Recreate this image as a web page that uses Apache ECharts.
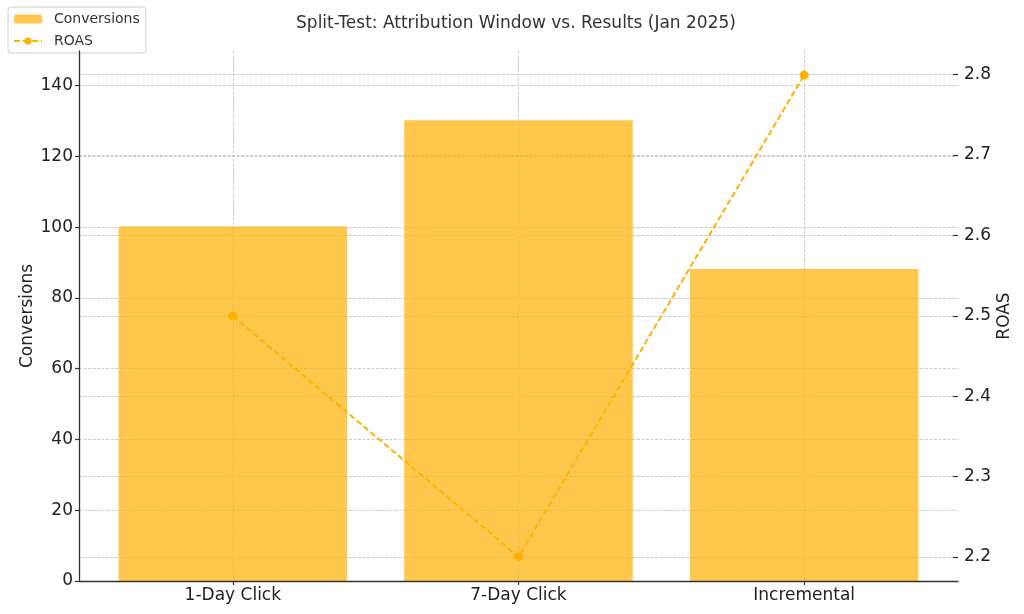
<!DOCTYPE html>
<html>
<head>
<meta charset="utf-8">
<script src="https://cdn.jsdelivr.net/npm/echarts@6/dist/echarts.min.js"></script>
<style>html,body{margin:0;padding:0;background:#fff}#c{width:1024px;height:614px}</style>
</head>
<body>
<div id="c"></div>
<script>
const categories = ['1-Day Click', '7-Day Click', 'Incremental'];
const conversions = [100, 130, 88];
const roas = [2.5, 2.2, 2.8];
const leftTicks = {min: 0, max: 140, interval: 20};
const rightTicks = {min: 2.2, max: 2.8, interval: 0.1};
const leftRange = [0, 149.5];
const rightRange = [2.17, 2.83];

const FONT = 'DejaVu Sans';
const gridLine = {show: true, lineStyle: {color: '#cccccc', width: 1, type: [3, 1.5]}};
const dark = '#333333';
const chart = echarts.init(document.getElementById('c'), null, {renderer: 'canvas'});
chart.setOption({
  animation: false,
  textStyle: {fontFamily: FONT},
  title: {
    text: 'Split-Test: Attribution Window vs. Results (Jan 2025)',
    left: 511, top: 10, textAlign: 'center',
    textStyle: {fontFamily: FONT, fontSize: 17, fontWeight: 'normal', color: '#333'}
  },
  legend: {
    orient: 'vertical', left: 8, top: 7,
    padding: [5, 6, 5, 5],
    itemGap: 8, itemWidth: 28, itemHeight: 9,
    borderColor: '#d0d0d0', borderWidth: 1, borderRadius: 3,
    backgroundColor: '#fff',
    textStyle: {fontFamily: FONT, fontSize: 14, color: '#333', padding: [0, 0, 0, 7]},
    data: ['Conversions', 'ROAS']
  },
  grid: [
    {left: 90, right: 77, top: 51, bottom: 33},
    {left: 79, right: 66, top: 51, bottom: 33},
    {left: 79, right: 66, top: 85.6, bottom: 33},
    {left: 79, right: 71, top: 74.5, bottom: 57}
  ],
  xAxis: [
    {type: 'category', gridIndex: 0, data: categories,
     axisLine: {show: false, onZero: false},
     axisTick: {show: true, alignWithLabel: true, length: 4, lineStyle: {color: dark, width: 1.2}},
     axisLabel: {fontSize: 17, color: '#222', margin: 6, fontFamily: FONT},
     splitLine: {show: true, alignWithLabel: true, lineStyle: {color: '#cccccc', width: 1, type: [3, 1.5]}}},
    {type: 'value', gridIndex: 1, min: 0, max: 1, z: 10,
     axisLine: {show: true, onZero: false, lineStyle: {color: dark, width: 1.3}},
     axisTick: {show: false}, axisLabel: {show: false}, splitLine: {show: false}},
    {type: 'value', gridIndex: 2, min: 0, max: 1, show: false, axisLine: {onZero: false}},
    {type: 'value', gridIndex: 3, min: 0, max: 1, show: false, axisLine: {onZero: false}}
  ],
  yAxis: [
    {type: 'value', gridIndex: 0, min: leftRange[0], max: leftRange[1], show: false, axisLine: {onZero: false}},
    {type: 'value', gridIndex: 0, min: rightRange[0], max: rightRange[1], show: false, position: 'right', axisLine: {onZero: false}},
    {type: 'value', gridIndex: 1, min: 0, max: 1, position: 'left', z: 10,
     name: 'Conversions', nameLocation: 'middle', nameGap: 43,
     nameTextStyle: {fontSize: 17, color: '#222', fontFamily: FONT},
     axisLine: {show: true, onZero: false, lineStyle: {color: dark, width: 1.3}},
     axisTick: {show: false}, axisLabel: {show: false}, splitLine: {show: false}},
    {type: 'value', gridIndex: 1, min: 0, max: 1, position: 'right',
     name: 'ROAS', nameLocation: 'middle', nameGap: 38,
     nameTextStyle: {fontSize: 17, color: '#222', fontFamily: FONT},
     axisLine: {show: false, onZero: false}, axisTick: {show: false}, axisLabel: {show: false}, splitLine: {show: false}},
    {type: 'value', gridIndex: 2, position: 'left', min: leftTicks.min, max: leftTicks.max, interval: leftTicks.interval,
     axisLine: {show: false, onZero: false},
     axisTick: {show: true, length: 4, lineStyle: {color: dark, width: 1.2}},
     axisLabel: {fontSize: 17, color: '#222', margin: 6, fontFamily: FONT},
     splitLine: gridLine},
    {type: 'value', gridIndex: 3, position: 'right', min: rightTicks.min, max: rightTicks.max, interval: rightTicks.interval,
     axisLine: {show: false, onZero: false},
     axisTick: {show: true, length: 5, lineStyle: {color: dark, width: 1.2}},
     axisLabel: {fontSize: 17, color: '#222', margin: 11, fontFamily: FONT,
                 formatter: v => v.toFixed(1)},
     splitLine: gridLine}
  ],
  series: [
    {name: 'Conversions', type: 'bar', xAxisIndex: 0, yAxisIndex: 0, data: conversions,
     barWidth: '80%', itemStyle: {color: '#FFB000', opacity: 0.7}},
    {name: 'ROAS', type: 'line', xAxisIndex: 0, yAxisIndex: 1, data: roas,
     symbol: 'circle', symbolSize: 9, showSymbol: true, z: 5,
     lineStyle: {color: '#FFB000', width: 2, type: [6, 3]},
     itemStyle: {color: '#FFB000'}}
  ]
});
</script>
</body>
</html>
